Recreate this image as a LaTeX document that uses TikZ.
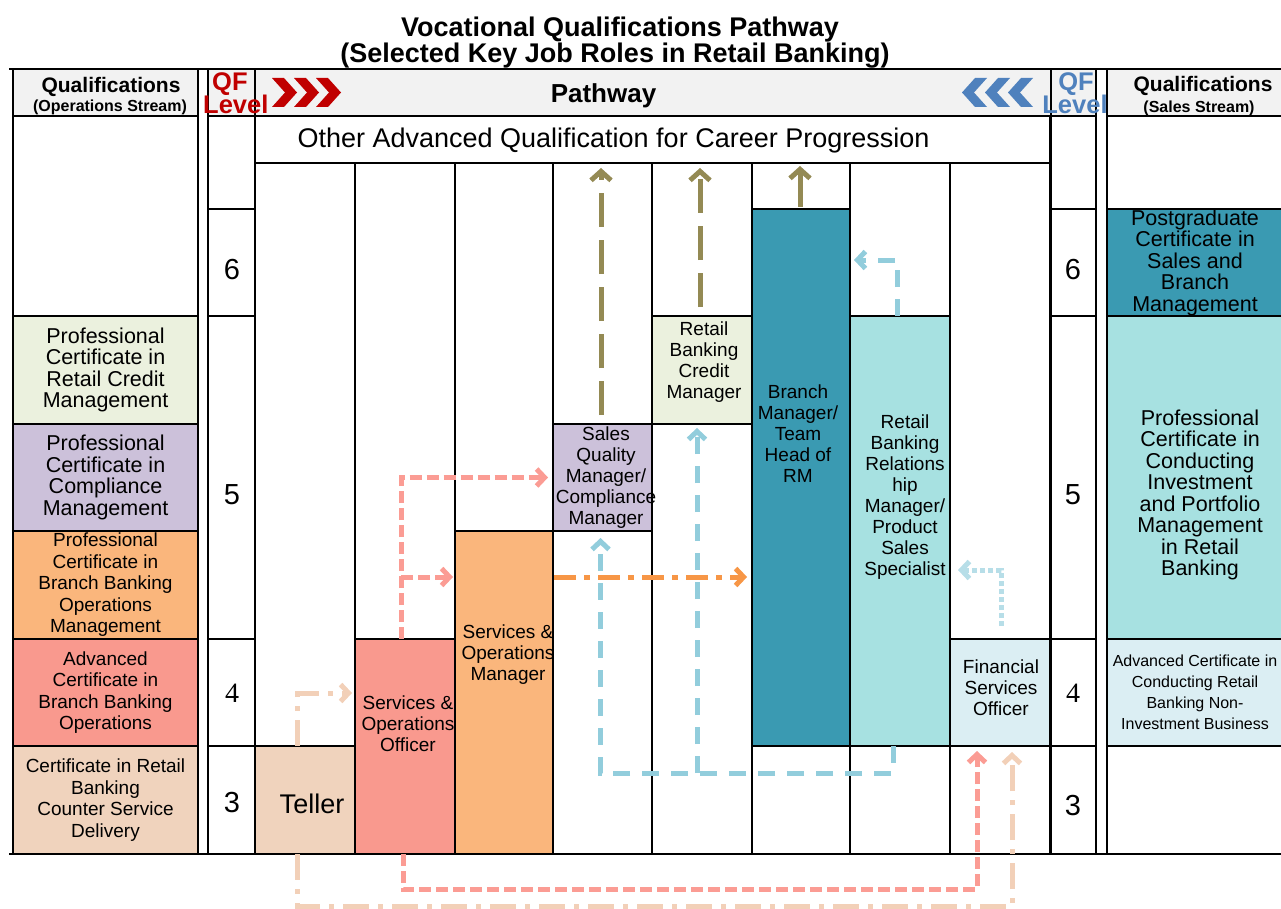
\documentclass[tikz,border=0pt]{standalone}
\usepackage{fontspec}
\setmainfont{Liberation Sans}
\newfontfamily\serifdigits{Liberation Serif}
\usetikzlibrary{arrows.meta,calc}
\definecolor{hdrgray}{HTML}{F2F2F2}
\definecolor{qfred}{HTML}{C00000}
\definecolor{qfblue}{HTML}{4F81BD}
\definecolor{cgreen}{HTML}{EBF1DE}
\definecolor{clav}{HTML}{CCC1DA}
\definecolor{corange}{HTML}{FAB67C}
\definecolor{csalmon}{HTML}{F9998E}
\definecolor{cpeach}{HTML}{F0D3BD}
\definecolor{cteal}{HTML}{3A9AB2}
\definecolor{clteal}{HTML}{A7E1E1}
\definecolor{cltblue}{HTML}{DBEEF3}
\definecolor{aolive}{HTML}{948A54}
\definecolor{asalmon}{HTML}{FB9C94}
\definecolor{apeach}{HTML}{F2D0B8}
\definecolor{ablue}{HTML}{92CDDC}
\definecolor{ablue2}{HTML}{B7DEE8}
\definecolor{aorange}{HTML}{F79646}
\newcommand\mybox[7]{\node[cell,#1,minimum width={(#4)-(#2)},minimum height={(#5)-(#3)}] (#6) at (#2,#3) {#7};}
\begin{document}
\begin{tikzpicture}[x=1pt,y=-1pt,
  cell/.style={draw=black, line width=1.4pt, inner sep=0pt, outer sep=0pt, anchor=north west, align=center},
  grid/.style={draw=black, line width=1.4pt},
  fA/.style={font=\fontsize{21.5}{21.5}\selectfont},
  fB/.style={font=\fontsize{19}{21.5}\selectfont},
  fS/.style={font=\fontsize{16}{21}\selectfont},
  fR/.style={font=\fontsize{19}{21}\selectfont, align=center, inner sep=0pt},
  fbig/.style={font=\fontsize{27}{27}\selectfont, inner sep=0pt},
  titlef/.style={font=\fontsize{27}{27}\selectfont\bfseries, inner sep=0pt},
  hq/.style={font=\fontsize{21}{21}\selectfont\bfseries, inner sep=0pt},
  hqsmall/.style={font=\fontsize{16}{16}\selectfont\bfseries, inner sep=0pt},
  qfl/.style={font=\fontsize{25.5}{25.5}\selectfont\bfseries, inner sep=0pt},
  digit/.style={font=\fontsize{29}{29}\selectfont, inner sep=0pt},
  sdigit/.style={font=\fontsize{28}{28}\serifdigits\selectfont, inner sep=0pt},
  arr/.style={line width=5pt, line join=miter, -{Straight Barb[length=8pt,width=17pt]}},
  olivearr/.style={arr, draw=aolive, -{Straight Barb[length=9pt,width=20pt]}},
  salarr/.style={arr, draw=asalmon, dash pattern=on 12pt off 5pt},
  pcharr/.style={arr, draw=apeach, dash pattern=on 26pt off 9pt on 5pt off 9pt},
  bluearr/.style={arr, draw=ablue, dash pattern=on 17pt off 12pt},
  dotarr/.style={arr, draw=ablue2, dash pattern=on 5pt off 3pt},
  orarr/.style={arr, draw=aorange, dash pattern=on 22pt off 8pt on 6pt off 8pt}
]
\useasboundingbox (0,0) rectangle (1281,909);
% title
\node[titlef, anchor=base] (title1) at (620,37) {Vocational Qualifications Pathway};
\node[titlef, anchor=base] (title2) at (615,63) {(Selected Key Job Roles in Retail Banking)};
% header cells
\mybox{fill=hdrgray}{13}{69}{198}{116}{hqo}{}
\mybox{fill=hdrgray}{208}{69}{255}{116}{hqfl}{}
\mybox{fill=hdrgray}{255}{69}{1051}{116}{hpath}{}
\mybox{fill=hdrgray}{1051}{69}{1096}{116}{hqfr}{}
\mybox{fill=hdrgray}{1107}{69}{1283}{116}{hqs}{}
% other advanced row
\mybox{}{255}{116}{1050}{163}{oth}{}
\node[fbig, anchor=base] (othtext) at (613.5,148) {Other Advanced Qualification for Career Progression};
% pathway columns
\foreach \x in {355,455,553,652,752,850,950,1050} \draw[grid] (\x,163) -- (\x,854);
% left qualification column
\mybox{}{13}{116}{198}{316}{qblank}{}
\mybox{fill=cgreen,fA}{13}{316}{198}{424}{qrc}{Professional\\Certificate in\\Retail Credit\\Management}
\mybox{fill=clav,fA}{13}{424}{198}{531}{qcm}{Professional\\Certificate in\\Compliance\\Management}
\mybox{fill=corange,fB}{13}{531}{198}{639}{qbbom}{Professional\\Certificate in\\Branch Banking\\Operations\\Management}
\mybox{fill=csalmon,fB}{13}{639}{198}{746}{qabb}{Advanced\\Certificate in\\Branch Banking\\Operations}
\mybox{fill=cpeach,fB}{13}{746}{198}{854}{qcrb}{Certificate in Retail\\Banking\\Counter Service\\Delivery}
% left QF column
\mybox{}{208}{116}{255}{209}{qfl0}{}
\mybox{}{208}{209}{255}{316}{qfl6}{}
\mybox{}{208}{316}{255}{639}{qfl5}{}
\mybox{}{208}{639}{255}{746}{qfl4}{}
\mybox{}{208}{746}{255}{854}{qfl3}{}
\node[digit] (dl6) at (232,270) {6};
\node[digit] (dl5) at (232,495) {5};
\node[sdigit] (dl4) at (232,693) {4};
\node[digit] (dl3) at (232,803) {3};
% right QF column
\mybox{}{1051}{116}{1096}{209}{qfr0}{}
\mybox{}{1051}{209}{1096}{316}{qfr6}{}
\mybox{}{1051}{316}{1096}{639}{qfr5}{}
\mybox{}{1051}{639}{1096}{746}{qfr4}{}
\mybox{}{1051}{746}{1096}{854}{qfr3}{}
\node[digit] (dr6) at (1073,270) {6};
\node[digit] (dr5) at (1073,495) {5};
\node[sdigit] (dr4) at (1073,693) {4};
\node[digit] (dr3) at (1073,806) {3};
% right qualification column
\mybox{}{1107}{116}{1283}{209}{sblank}{}
\mybox{fill=cteal,fA}{1107}{209}{1283}{316}{spg}{Postgraduate\\Certificate in\\Sales and\\Branch\\Management}
\mybox{fill=clteal}{1107}{316}{1283}{639}{spc}{}
\node[fA, align=center, inner sep=0pt] (spct) at (1200,495) {Professional\\Certificate in\\Conducting\\Investment\\and Portfolio\\Management\\in Retail\\Banking};
\mybox{fill=cltblue,fS}{1107}{639}{1283}{746}{sac}{Advanced Certificate in\\Conducting Retail\\Banking Non-\\Investment Business}
\mybox{}{1107}{746}{1283}{854}{sblank3}{}
% outer lines
\draw[grid] (9,69) -- (1283,69);
\draw[grid] (9,854) -- (1283,854);
% header texts
\node[hq, anchor=base] (hqo1) at (111,93) {Qualifications};
\node[hqsmall, anchor=base] (hqo2) at (110,112) {(Operations Stream)};
\node[hq, anchor=base] (hqs1) at (1203,92) {Qualifications};
\node[hqsmall, anchor=base] (hqs2) at (1199,113) {(Sales Stream)};
\node[qfl, text=qfblue, anchor=base] (hqfr1) at (1076,91) {QF};
\node[qfl, text=qfblue, anchor=base] (hqfr2) at (1075,114) {Level};
\node[font=\fontsize{26}{26}\selectfont\bfseries, inner sep=0pt, anchor=base] (pathtxt) at (603.5,103) {Pathway};
% chevrons
\foreach \c in {272,294,316}
  \fill[qfred] (\c,78) -- (\c+12,78) -- (\c+25,92.5) -- (\c+12,107) -- (\c,107) -- (\c+13,92.5) -- cycle;
\foreach \c in {1033,1010,987}
  \fill[qfblue] (\c,78) -- (\c-12,78) -- (\c-25,92.5) -- (\c-12,107) -- (\c,107) -- (\c-13,92.5) -- cycle;
% pathway job role boxes
\mybox{fill=cpeach}{255}{746}{355}{854}{teller}{}
\node[font=\fontsize{27}{27}\selectfont, inner sep=0pt, anchor=base] (tellert) at (312,813) {Teller};
\mybox{fill=csalmon}{355}{639}{455}{854}{sooff}{}
\node[fR] (sofft) at (408,724) {Services \&\\Operations\\Officer};
\mybox{fill=corange}{455}{531}{553}{854}{soman}{}
\node[fR] (somant) at (508,655) {Services \&\\Operations\\Manager};
\mybox{fill=clav}{553}{424}{652}{531}{sqm}{}
\node[fR] (sqmt) at (606,478) {Sales\\Quality\\Manager/\\Compliance\\Manager};
\mybox{fill=cgreen}{652}{316}{752}{424}{rbcm}{}
\node[fR] (rbcmt) at (704,362) {Retail\\Banking\\Credit\\Manager};
\mybox{fill=cteal}{752}{209}{850}{746}{bm}{}
\node[fR] (bmt) at (798,434) {Branch\\Manager/\\Team\\Head of\\RM};
\mybox{fill=clteal}{850}{316}{950}{746}{rbrm}{}
\node[fR] (rbrmt) at (905,497) {Retail\\Banking\\Relations\\hip\\Manager/\\Product\\Sales\\Specialist};
\mybox{fill=cltblue}{950}{639}{1050}{746}{fso}{}
\node[fR] (fsot) at (1001,688) {Financial\\Services\\Officer};
% QF Level (left) on top
\node[qfl, text=qfred, anchor=base west] (hqfl1) at (212,91) {QF};
\node[qfl, text=qfred, anchor=base west] (hqfl2) at (203,114) {Level};
% connectors
\draw[olivearr, dash pattern=on 34pt off 13pt] ($(sqm.north)+(-1.5,-9)$) -- ($(sqm.north |- oth.south)+(-1.5,5)$);
\draw[olivearr, dash pattern=on 34pt off 13pt] ($(rbcm.north)+(-2,-9)$) -- ($(rbcm.north |- oth.south)+(-2,5)$);
\draw[olivearr] ($(bm.north)+(-1,-2)$) -- ($(bm.north |- oth.south)+(-1,3)$);
\draw[bluearr] ($(rbrm.north)+(-3,0)$) |- ($(bm.north east)+(4,51)$);
\coordinate (bj) at (697,773);
\draw[bluearr] ($(rbrm.south)+(-7,0)$) -- ++(0,27) -| ($(sqm.south)+(-2,7)$);
\draw[bluearr] (bj) -- ($(rbcm.south)+(-5,4)$);
\coordinate (sj) at (401,577);
\draw[salarr] ($(sooff.north)+(-4,0)$) |- ($(sqm.west)+(-5,0)$);
\draw[salarr] (sj) -- ($(soman.north west)+(-2,46)$);
\draw[salarr] ($(sooff.south)+(-2,0)$) -- ++(0,35) -| ($(fso.south)+(-23,5)$);
\draw[pcharr] ($(teller.north)+(-8,0)$) |- ($(sooff.north west)+(-3,54)$);
\draw[pcharr] ($(teller.south)+(-8,0)$) -- ++(0,52) -| ($(fso.south)+(12,6)$);
\draw[orarr] ($(soman.north east)+(1,46)$) -- ($(bm.north west)+(-5,368)$);
\draw[dotarr] ($(fso.north)+(1,-13)$) |- ($(rbrm.north east)+(8,254)$);
\end{tikzpicture}
\end{document}
